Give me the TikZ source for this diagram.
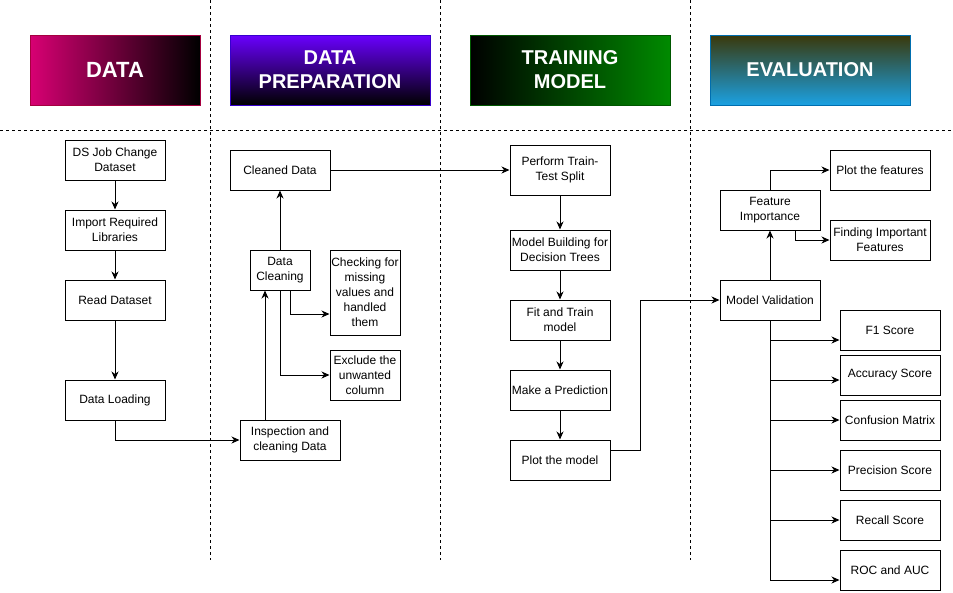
\documentclass[tikz,border=0pt]{standalone}
\usepackage{fontspec}
\setmainfont{Liberation Sans}
\usetikzlibrary{arrows.meta}
\definecolor{magentaA}{HTML}{D80073}
\definecolor{magentaB}{HTML}{A50040}
\definecolor{violetA}{HTML}{6A00FF}
\definecolor{violetB}{HTML}{3700CC}
\definecolor{greenA}{HTML}{008A00}
\definecolor{greenB}{HTML}{005700}
\definecolor{oliveA}{HTML}{3A380A}
\definecolor{blueA}{HTML}{1BA1E2}
\definecolor{blueB}{HTML}{006EAF}
\begin{document}
\begin{tikzpicture}[x=1pt,y=-1pt,
  box/.style={draw, line width=1pt, minimum width=100pt, minimum height=40pt,
    inner sep=1pt, align=center, font=\fontsize{12}{15}\selectfont},
  header/.style={draw, line width=1pt, minimum width=200pt, minimum height=70pt,
    inner sep=0pt, align=center, text=white, font=\bfseries\fontsize{20}{24}\selectfont},
  arr/.style={line width=1pt, -{Stealth[length=8pt,width=7pt,inset=2.5pt]}},
  lane/.style={line width=0.8pt, dash pattern=on 3pt off 3pt}]
\useasboundingbox (0,0) rectangle (953,592);

% lane separators
\draw[lane] (0,130) -- (953,130);
\draw[lane] (210,0) -- (210,560);
\draw[lane] (440,0) -- (440,560);
\draw[lane] (690,0) -- (690,560);

% stage headers
\node[header, minimum width=170pt, draw=magentaB, left color=magentaA, right color=black,
  font=\bfseries\fontsize{22}{26}\selectfont] (hData) at (115,70) {DATA};
\node[header, draw=violetB, top color=violetA, bottom color=black] (hPrep) at (330,70) {DATA\\PREPARATION};
\node[header, draw=greenB, left color=black, right color=greenA] (hTrain) at (570,70) {TRAINING\\MODEL};
\node[header, draw=blueB, top color=oliveA, bottom color=blueA] (hEval) at (810,70) {EVALUATION};

% data stage
\node[box] (ds) at (115,160) {DS Job Change\\Dataset};
\node[box] (libs) at (115,230) {Import Required\\Libraries};
\node[box] (read) at (115,300) {Read Dataset};
\node[box] (load) at (115,400) {Data Loading};

% preparation stage
\node[box] (insp) at (290,440) {Inspection and\\cleaning Data};
\node[box, minimum width=60pt] (dclean) at (280,270) {Data\\Cleaning};
\node[box] (cdata) at (280,170) {Cleaned Data};
\node[box, minimum width=70pt, minimum height=85pt] (check) at (365,292.5) {Checking for\\missing\\values and\\handled\\them};
\node[box, minimum width=70pt, minimum height=50pt] (excl) at (365,375) {Exclude the\\unwanted\\column};

% training stage
\node[box, minimum height=50pt] (split) at (560,170) {Perform Train-\\Test Split};
\node[box] (build) at (560,250) {Model Building for\\Decision Trees};
\node[box] (fit) at (560,320) {Fit and Train\\model};
\node[box] (pred) at (560,390) {Make a Prediction};
\node[box] (plot) at (560,460) {Plot the model};

% evaluation stage
\node[box] (mv) at (770,300) {Model Validation};
\node[box] (fi) at (770,210) {Feature\\Importance};
\node[box] (pf) at (880,170) {Plot the features};
\node[box] (find) at (880,240) {Finding Important\\Features};
\node[box] (f1) at (890,330) {F1 Score};
\node[box] (acc) at (890,375) {Accuracy Score};
\node[box] (conf) at (890,420) {Confusion Matrix};
\node[box] (prec) at (890,470) {Precision Score};
\node[box] (rec) at (890,520) {Recall Score};
\node[box] (roc) at (890,570) {ROC and AUC};

% data flow
\draw[arr] (ds) -- (libs);
\draw[arr] (libs) -- (read);
\draw[arr] (read) -- (load);
\draw[arr] (load.south) |- (insp.west);
\draw[arr] ([xshift=-25pt]insp.north) -- ([xshift=-25pt]insp.north |- dclean.south);
\draw[arr] (dclean) -- (cdata);
\draw[arr] ([xshift=10pt]dclean.south) |- ([yshift=-21.5pt]check.west);
\draw[arr] (dclean.south) |- (excl.west);
\draw[arr] (cdata) -- (split);
\draw[arr] (split) -- (build);
\draw[arr] (build) -- (fit);
\draw[arr] (fit) -- (pred);
\draw[arr] (pred) -- (plot);
\draw[arr] ([yshift=10pt]plot.east) -- ++(30,0) |- (mv.west);
\draw[arr] (mv) -- (fi);
\draw[arr] (fi.north) |- (pf.west);
\draw[arr] ([xshift=25pt]fi.south) |- (find.west);
\draw[arr] (mv.south) |- ([yshift=-10pt]f1.west);
\draw[arr] (mv.south) |- ([yshift=-5pt]acc.west);
\draw[arr] (mv.south) |- (conf.west);
\draw[arr] (mv.south) |- (prec.west);
\draw[arr] (mv.south) |- (rec.west);
\draw[arr] (mv.south) |- ([yshift=-10pt]roc.west);
\end{tikzpicture}
\end{document}
